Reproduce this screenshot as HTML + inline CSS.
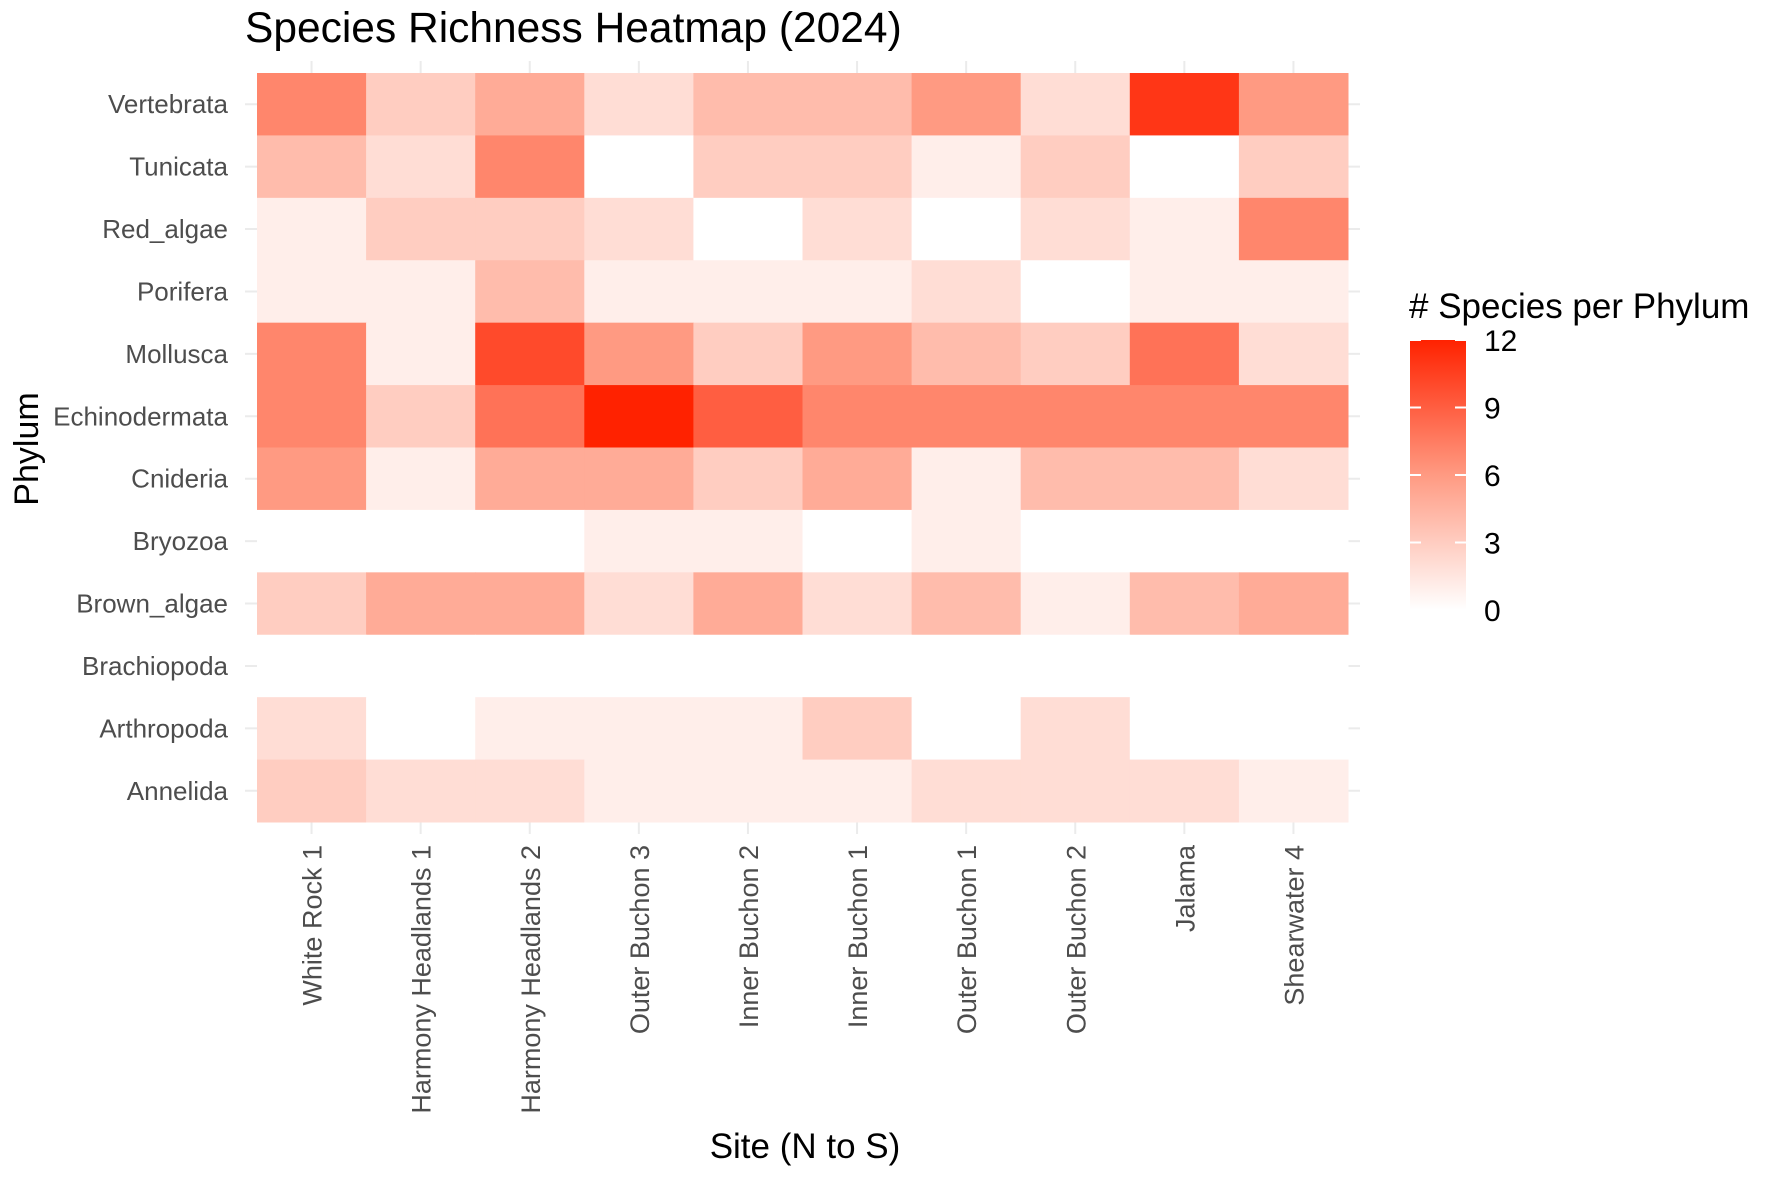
<!DOCTYPE html>
<html><head><meta charset="utf-8"><style>
body{margin:0;background:#fff;}
svg text{font-family:"Liberation Sans",sans-serif;}
</style></head><body>
<svg id="chart" width="1780" height="1172" xmlns="http://www.w3.org/2000/svg">
<defs><linearGradient id="lg" x1="0" y1="1" x2="0" y2="0">
<stop offset="0" stop-color="#ffffff"/><stop offset="0.5" stop-color="#ff9a82"/><stop offset="1" stop-color="#ff2200"/></linearGradient></defs>
<text x="245" y="42" font-size="42.5" fill="#000">Species Richness Heatmap (2024)</text>
<g id="grid"></g><g id="tiles"></g><g id="ylab"></g><g id="xlab"></g>
<text transform="translate(38,449) rotate(-90)" text-anchor="middle" font-size="34" fill="#000">Phylum</text>
<text x="805" y="1158" text-anchor="middle" font-size="35" fill="#000">Site (N to S)</text>
<g>
<text x="1409" y="318" font-size="35" fill="#000"># Species per Phylum</text>
<rect x="1410" y="340" width="56" height="270" fill="url(#lg)"/>
<g id="leg"></g></g>
</svg>
<script>
const sites=["White Rock 1","Harmony Headlands 1","Harmony Headlands 2","Outer Buchon 3","Inner Buchon 2","Inner Buchon 1","Outer Buchon 1","Outer Buchon 2","Jalama","Shearwater 4"];
const phyla=["Vertebrata","Tunicata","Red_algae","Porifera","Mollusca","Echinodermata","Cnideria","Bryozoa","Brown_algae","Brachiopoda","Arthropoda","Annelida"];
const vVertebrata=[7,3,5,2,4,4,6,2,11,6];
const vTunicata=[4,2,7,0,3,3,1,3,0,3];
const vRedAlgae=[1,3,3,2,0,2,0,2,1,7];
const vPorifera=[1,1,4,1,1,1,2,0,1,1];
const vMollusca=[7,1,10,6,3,6,4,3,8,2];
const vEchinodermata=[7,3,8,12,9,7,7,7,7,7];
const vCnideria=[6,1,5,5,3,5,1,4,4,2];
const vBryozoa=[0,0,0,1,1,0,1,0,0,0];
const vBrownAlgae=[3,5,5,2,5,2,4,1,4,5];
const vBrachiopoda=[0,0,0,0,0,0,0,0,0,0];
const vArthropoda=[2,0,1,1,1,3,0,2,0,0];
const vAnnelida=[3,2,2,1,1,1,2,2,2,1];
const values=[vVertebrata,vTunicata,vRedAlgae,vPorifera,vMollusca,vEchinodermata,vCnideria,vBryozoa,vBrownAlgae,vBrachiopoda,vArthropoda,vAnnelida];
const legendTicks=[0,3,6,9,12];
const vmax=12;
const NS="http://www.w3.org/2000/svg";
const L=257,R=1348,T=73,B=822;
const cw=(R-L)/sites.length, rh=(B-T)/phyla.length;
const xC=i=>L+cw*(i+0.5), yC=j=>T+rh*(j+0.5);
function lerp(a,b,t){return a+(b-a)*t;}
function color(v){const t=v/vmax;let c;
 if(t<0.5){const s=t/0.5;c=[255,lerp(255,154,s),lerp(255,130,s)];}
 else{const s=(t-0.5)/0.5;c=[255,lerp(154,34,s),lerp(130,0,s)];}
 return `rgb(${c.map(Math.round).join(',')})`;}
function mk(tag,attrs,parent){const e=document.createElementNS(NS,tag);for(const k in attrs)e.setAttribute(k,attrs[k]);parent.appendChild(e);return e;}
const grid=document.getElementById('grid');
sites.forEach((s,i)=>{const l=mk('line',{x1:xC(i),x2:xC(i),y1:T-12,y2:B+12,stroke:'#ebebeb','stroke-width':2},grid);

});
phyla.forEach((p,j)=>{const l=mk('line',{x1:L-12,x2:R+12,y1:yC(j),y2:yC(j),stroke:'#ebebeb','stroke-width':2},grid);

});
const tiles=document.getElementById('tiles');
values.forEach((row,j)=>row.forEach((v,i)=>{
 const r=mk('rect',{x:L+cw*i,y:T+rh*j,width:cw+0.5,height:rh+0.5,fill:color(v)},tiles);
 
 
}));
const yl=document.getElementById('ylab');
phyla.forEach((p,j)=>{const t=mk('text',{x:228,y:yC(j)+9,'text-anchor':'end','font-size':26,fill:'#4d4d4d'},yl);t.textContent=p;

});
const xl=document.getElementById('xlab');
sites.forEach((s,i)=>{const t=mk('text',{transform:`translate(${xC(i)+10},845) rotate(-90)`,'text-anchor':'end','font-size':27,fill:'#4d4d4d'},xl);t.textContent=s;

});
const leg=document.getElementById('leg');
const ly=v=>610-(v/vmax)*270;
legendTicks.forEach(v=>{
 mk('line',{x1:1410,x2:1421,y1:ly(v),y2:ly(v),stroke:'#fff','stroke-width':2},leg);
 mk('line',{x1:1455,x2:1466,y1:ly(v),y2:ly(v),stroke:'#fff','stroke-width':2},leg);
 const t=mk('text',{x:1484,y:ly(v)+11,'font-size':30,fill:'#000'},leg);t.textContent=v;
 
 
});
</script>
</body></html>
